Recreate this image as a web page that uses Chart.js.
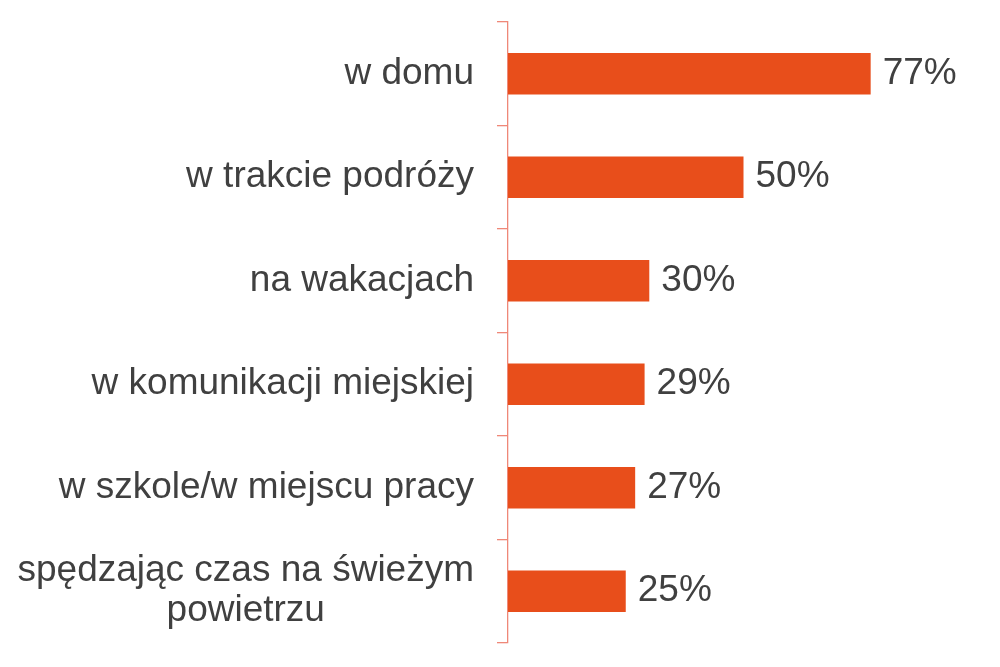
<!DOCTYPE html>
<html>
<head>
<meta charset="utf-8">
<script src="https://cdn.jsdelivr.net/npm/chart.js@4/dist/chart.umd.min.js"></script>
<style>
  html, body { margin: 0; padding: 0; background: #fff; }
  #wrap { width: 1000px; height: 667px; }
</style>
</head>
<body>
<div id="wrap"><canvas id="chart"></canvas></div>
<script>
// ---------- Data ----------
const categories = [
  "w domu",
  "w trakcie podróży",
  "na wakacjach",
  "w komunikacji miejskiej",
  "w szkole/w miejscu pracy",
  ["spędzając czas na świeżym", "powietrzu"]
];
const values = [77, 50, 30, 29, 27, 25];

// ---------- Styles ----------
const FONT = "'Liberation Sans', Arial, sans-serif";
const TEXT = "#404040";
const BAR = "#E84E1B";
const AXIS = "#EF8878";

// y labels drawn by hand so multi-line labels are centred like the source
const yLabels = {
  id: "yLabels",
  afterDraw(chart) {
    const ctx = chart.ctx;
    const y = chart.scales.y;
    const right = y.right - 11 - 23;
    const lineH = 40;
    ctx.save();
    ctx.font = "37px " + FONT;
    ctx.fillStyle = TEXT;
    ctx.textAlign = "center";
    ctx.textBaseline = "middle";
    categories.forEach((lab, i) => {
      const lines = Array.isArray(lab) ? lab : [lab];
      const w = Math.max(...lines.map((l) => ctx.measureText(l).width));
      const cx = right - w / 2;
      const cy = y.getPixelForTick(i);
      const top = cy - (lines.length - 1) * lineH / 2;
      lines.forEach((l, j) => ctx.fillText(l, cx, top + j * lineH));
    });
    ctx.restore();
  }
};

// value labels at the end of each bar
const valueLabels = {
  id: "valueLabels",
  afterDatasetsDraw(chart) {
    const ctx = chart.ctx;
    const meta = chart.getDatasetMeta(0);
    ctx.save();
    ctx.font = "37px " + FONT;
    ctx.fillStyle = TEXT;
    ctx.textAlign = "left";
    ctx.textBaseline = "middle";
    meta.data.forEach((bar, i) => {
      ctx.fillText(values[i] + "%", bar.x + 12, bar.y);
    });
    ctx.restore();
  }
};

new Chart(document.getElementById("chart"), {
  type: "bar",
  data: {
    labels: categories,
    datasets: [{
      data: values,
      backgroundColor: BAR,
      barPercentage: 0.4,
      categoryPercentage: 1
    }]
  },
  options: {
    indexAxis: "y",
    responsive: true,
    maintainAspectRatio: false,
    animation: false,
    layout: { padding: { top: 22, right: 21, bottom: 24, left: 0 } },
    plugins: { legend: { display: false }, tooltip: { enabled: false } },
    scales: {
      x: { display: false, min: 0, max: 100 },
      y: {
        afterFit(scale) {
          scale.width = 508;
          scale.paddingTop = 0;
          scale.paddingBottom = 0;
        },
        grid: {
          offset: true,
          drawOnChartArea: false,
          drawTicks: true,
          tickLength: 11,
          color: AXIS,
          lineWidth: 1.3
        },
        border: { color: AXIS, width: 1.3 },
        ticks: { color: "rgba(0,0,0,0)", font: { size: 1, family: FONT }, padding: 0 }
      }
    }
  },
  plugins: [yLabels, valueLabels]
});
</script>
</body>
</html>
